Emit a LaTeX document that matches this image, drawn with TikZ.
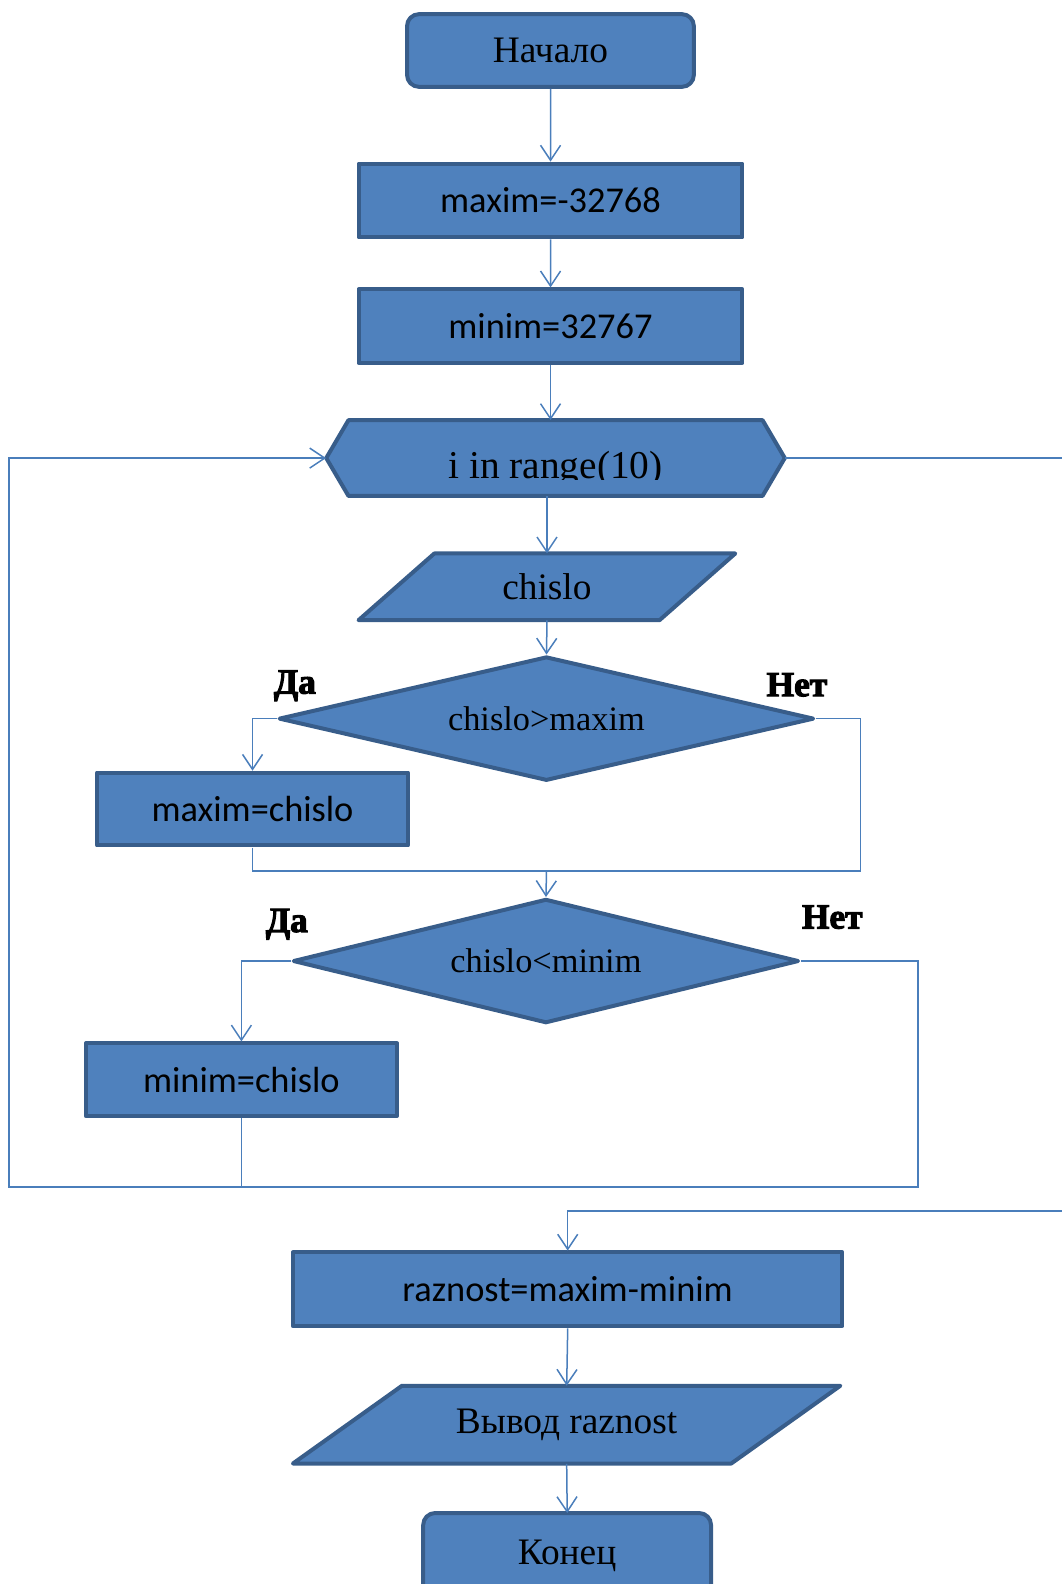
\documentclass[tikz,border=0pt]{standalone}
\usepackage{fontspec}
\setmainfont{Liberation Serif}
\newfontfamily\carl{Carlito}
\newfontfamily\heavyfont{Liberation Serif Bold}[FakeBold=3]
\usetikzlibrary{shapes.geometric,arrows.meta}
\definecolor{fillc}{HTML}{4F81BD}
\definecolor{bordc}{HTML}{385D8A}
\definecolor{linec}{HTML}{4A7EBB}
\begin{document}
\begin{tikzpicture}[x=1pt,y=-1pt,scale=1.01,transform shape,
  font=\fontsize{37}{44}\selectfont,
  conn/.style={draw=linec, line width=1.5pt},
  arr/.style={conn, -{Straight Barb[length=15pt,width=20pt]}},
  boxbase/.style={draw=bordc, fill=fillc, line width=4pt, line join=round},
  procbox/.style={boxbase, rectangle, inner sep=0pt, minimum height=73pt, font=\carl\fontsize{36}{40}\selectfont},
  termbox/.style={boxbase, rectangle, rounded corners=12pt, inner sep=0pt},
  decbox/.style={boxbase, diamond, inner sep=0pt, minimum height=123pt, font=\fontsize{34}{40}\selectfont},
  shapeonly/.style={inner sep=0pt},
  lbl/.style={font=\heavyfont\fontsize{35}{38}\selectfont}]
\useasboundingbox (0,0) rectangle (1050.5,1568.3);

% outlines of the shapes that are not plain node shapes
\draw[boxbase] (323,453.5) -- (345,416) -- (755,416) -- (777,453.5) -- (755,491) -- (345,491) -- cycle;
\draw[boxbase] (430,548) -- (728,548) -- (653,614) -- (355,614) -- cycle;
\draw[boxbase] (398,1372) -- (832,1372) -- (724,1449) -- (290,1449) -- cycle;
\draw[boxbase, rounded corners=12pt] (419,1600) -- (419,1498) -- (704,1498) -- (704,1600) -- cycle;

% nodes
\node[termbox, minimum width=284pt, minimum height=72pt] (start) at (545,50) {Начало};
\node[procbox, minimum width=380pt] (s1) at (545,198.5) {maxim=-32768};
\node[procbox, minimum width=380pt] (s2) at (545,323) {minim=32767};
\begin{scope}
  \clip (300,400) rectangle (800,475);
  \node[shapeonly, minimum width=454pt, minimum height=75pt, text height=41pt, text depth=0pt,
        font=\fontsize{39}{44}\selectfont] (hx) at (550,453.5) {i in range(10)};
\end{scope}
\node[shapeonly, minimum width=373pt, minimum height=66pt] (p1) at (541.5,581) {chislo};
\node[decbox, minimum width=530pt, aspect=4.3] (d1) at (541,711.5) {chislo>maxim};
\node[procbox, minimum width=308pt, minimum height=72pt] (mc) at (250,801) {maxim=chislo};
\node[decbox, minimum width=501pt, aspect=4.1] (d2) at (540.5,951.5) {chislo<minim};
\node[procbox, minimum width=308pt, minimum height=72pt] (mnc) at (239,1069) {minim=chislo};
\node[procbox, minimum width=544pt] (r1) at (562,1276.5) {raznost=maxim-minim};
\node[shapeonly, minimum width=542pt, minimum height=77pt] (p2) at (561,1410.5) {Вывод raznost};
\node[shapeonly, minimum width=285pt, minimum height=84pt] (end) at (561.5,1540) {Конец};

\node[lbl] (da1) at (292,679) {Да};
\node[lbl] (net1) at (789,678) {Нет};
\node[lbl] (da2) at (284,915) {Да};
\node[lbl] (net2) at (824,908) {Нет};

% helper coordinates
\coordinate (rt1) at (852,711.5);
\coordinate (j1) at (541,862);
\coordinate (lr) at (909,1175);
\coordinate (ll) at (9,1175);
\coordinate (ex) at (1068,1199);
\coordinate (ent) at (562,1199);

% connectors
\draw[arr] (start) -- (s1);
\draw[arr] (s1) -- (s2);
\draw[arr] (s2.south) -- (s2.south |- hx.north);
\draw[arr] (p1.north |- hx.south) -- (p1.north);
\draw[arr] (p1.south) -- (d1.north);
\draw[arr] (d1.west) -| (mc.north);
\draw[conn] (d1.east) -- (rt1) |- (j1);
\draw[conn] (mc.south) |- (j1);
\draw[arr] (j1) -- (d2.north);
\draw[arr] (d2.west) -| (mnc.north);
\draw[conn] (mnc.south) -- (mnc.south |- lr);
\draw[arr] (d2.east) -| (lr) -- (ll) |- (hx.west);
\draw[arr] (hx.east) -| (ex) -- (ent) -- (r1.north);
\draw[arr] (r1.south) -- (p2.north);
\draw[arr] (p2.south) -- (end.north);
\end{tikzpicture}
\end{document}
